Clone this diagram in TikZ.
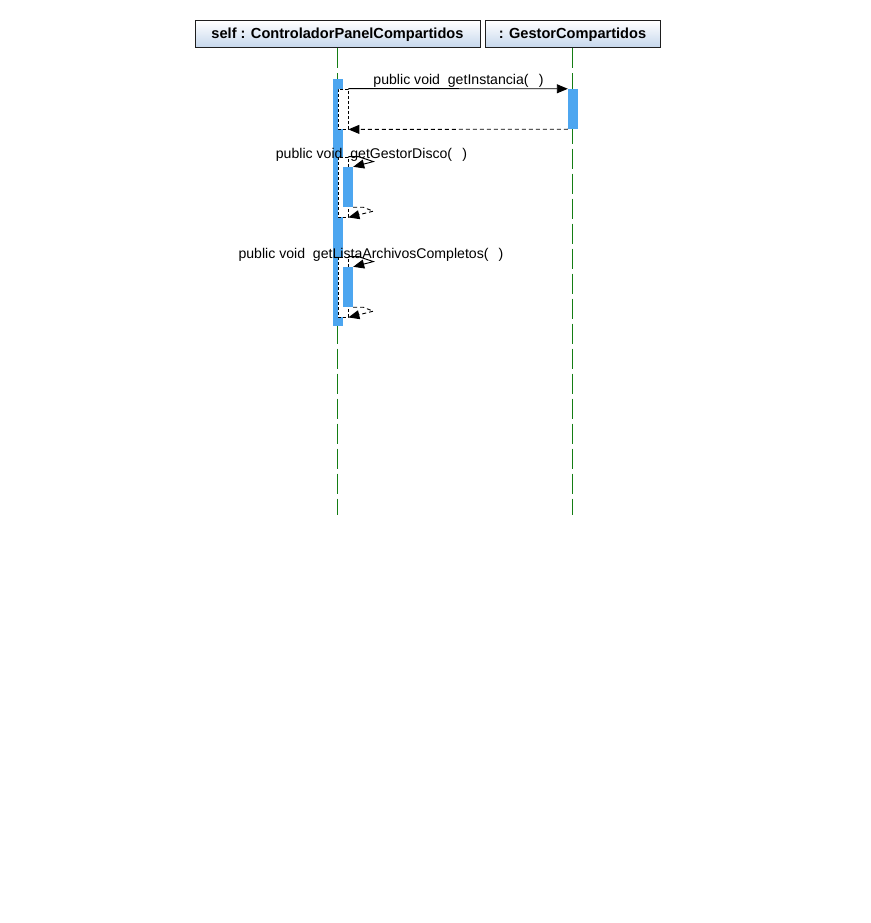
\documentclass[tikz,border=0pt]{standalone}
\usepackage{fontspec}
\setmainfont{Liberation Sans}
\usetikzlibrary{arrows.meta}
\definecolor{lifegreen}{RGB}{20,125,20}
\definecolor{actblue}{RGB}{77,166,240}
\definecolor{headblue}{RGB}{196,214,236}
\definecolor{headborder}{RGB}{30,30,30}
\begin{document}
\begin{tikzpicture}[x=1pt,y=-1pt,
  header/.style={draw=headborder, line width=1pt, top color=white, bottom color=headblue,
    inner sep=0pt, minimum height=27pt, font=\fontsize{14.6}{16}\selectfont\bfseries},
  lifeline/.style={draw=lifegreen, line width=1pt, dash pattern=on 20pt off 5pt},
  act/.style={fill=actblue, draw=none, minimum width=10pt, inner sep=0pt},
  execbox/.style={fill=white, draw=black, line width=0.8pt, dash pattern=on 3pt off 2pt,
    minimum width=10pt, inner sep=0pt},
  lbl/.style={font=\fontsize{14.1}{16}\selectfont, inner sep=0pt, anchor=base},
  msg/.style={draw=black, line width=0.9pt, -{Triangle[length=11pt,width=9pt]}},
  ret/.style={draw=black, line width=0.9pt, dash pattern=on 4pt off 3pt, -{Triangle[length=11pt,width=9pt]}}
]
\useasboundingbox (0,0) rectangle (870,923);
\fill[white] (0,0) rectangle (870,923);

% headers
\node[header, minimum width=285pt] (h1) at (337.5,34.5) {self : ControladorPanelCompartidos};
\node[header, minimum width=175pt] (h2) at (572.5,34.5) {: GestorCompartidos};

% lifelines
\coordinate (e1) at (337.5,515);
\coordinate (e2) at (572.5,515);
\draw[lifeline] (h1.south) -- (e1);
\draw[lifeline] (h2.south) -- (e2);

% activations
\node[act, minimum height=247pt] (a1) at (338,202.5) {};
\node[act, minimum height=40pt] (a2) at (573,109) {};
\node[execbox, minimum height=40pt] (w1) at (343,109) {};
\node[execbox, minimum height=60pt] (w2) at (343,187) {};
\node[act, minimum height=40pt] (i2) at (348,187) {};
\node[execbox, minimum height=60pt] (w3) at (343,287) {};
\node[act, minimum height=40pt] (i3) at (348,287) {};

% labels
\node[lbl] (t1) at (458.5,85) {public void\ \ getInstancia(\ \ \,)};
\node[lbl] (t2) at (371.5,158) {public void\ \ getGestorDisco(\ \ \,)};
\node[lbl] (t3) at (371,258) {public void\ \ getListaArchivosCompletos(\ \ \,)};

% messages
\draw[msg] (w1.north east) -- (a2.north west);
\draw[ret] (a2.south west) -- (w1.south east);

\draw[msg] (w2.north east) -- ++(10,0) -- ++(15,5) -- (i2.north east);
\draw[ret] (i2.south east) -- ++(10,0) -- ++(10,4) -- (w2.south east);

\draw[msg] (w3.north east) -- ++(10,0) -- ++(15,5) -- (i3.north east);
\draw[ret] (i3.south east) -- ++(10,0) -- ++(10,4) -- (w3.south east);
\end{tikzpicture}
\end{document}
